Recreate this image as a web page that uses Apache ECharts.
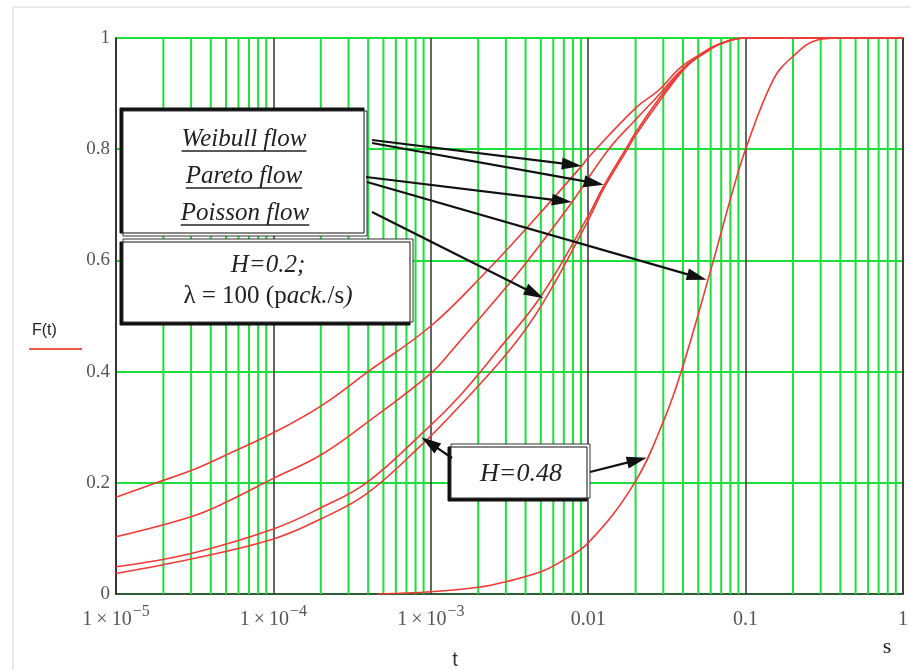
<!DOCTYPE html>
<html>
<head>
<meta charset="utf-8">
<script src="https://cdn.jsdelivr.net/npm/echarts@6/dist/echarts.min.js"></script>
<style>
  html, body { margin: 0; padding: 0; background: #fff; }
  #main { width: 911px; height: 670px; }
</style>
</head>
<body>
<div id="main"></div>
<script>
// [t (s), F(t)]
var curveTop = [[1e-5,0.174],[1.8e-5,0.2],[3e-5,0.222],[5e-5,0.25],[1e-4,0.29],[2e-4,0.338],[4e-4,0.4],[1e-3,0.482],
  [2.2e-3,0.577],[4.7e-3,0.678],[9.1e-3,0.77],[1e-2,0.785],[2e-2,0.874],[2.8e-2,0.906],[3.9e-2,0.948],[5.5e-2,0.975],[7e-2,0.99],[0.1,1],[1,1]];
var curveSecond = [[1e-5,0.103],[3e-5,0.139],[5e-5,0.165],[1e-4,0.208],[2e-4,0.25],[4e-4,0.31],[1e-3,0.397],[1.37e-3,0.439],
  [3.3e-3,0.565],[5e-3,0.63],[7.9e-3,0.705],[1.35e-2,0.8],[2e-2,0.853],[2.8e-2,0.897],[4e-2,0.945],[5.5e-2,0.973],[7e-2,0.99],[0.1,1],[1,1]];
var curvePairUpper = [[1e-5,0.049],[3e-5,0.073],[1e-4,0.117],[2e-4,0.155],[3.9e-4,0.2],[8.5e-4,0.285],[1.5e-3,0.354],[2.7e-3,0.44],
  [5e-3,0.535],[1e-2,0.68],[1.26e-2,0.735],[1.73e-2,0.8],[2e-2,0.83],[2.8e-2,0.89],[3.75e-2,0.935],[4.5e-2,0.958],[6e-2,0.982],[8e-2,0.996],[0.1,1],[1,1]];
var curvePairLower = [[1e-5,0.037],[3e-5,0.063],[1e-4,0.099],[2e-4,0.135],[3.9e-4,0.18],[8.5e-4,0.265],[1.5e-3,0.336],[3.2e-3,0.44],
  [5.2e-3,0.525],[1e-2,0.672],[1.26e-2,0.73],[1.73e-2,0.795],[2e-2,0.825],[2.8e-2,0.884],[3.75e-2,0.932],[4.5e-2,0.956],[6e-2,0.982],[8e-2,0.996],[0.1,1],[1,1]];
var curveH048 = [[4.6e-4,0],[1e-3,0.004],[2e-3,0.012],[3e-3,0.022],[5e-3,0.04],[6.5e-3,0.056],[1e-2,0.092],[1.97e-2,0.2],[3e-2,0.31],
  [3.9e-2,0.4],[6.25e-2,0.6],[8e-2,0.71],[0.1,0.8],[0.15,0.925],[0.195,0.964],[0.29,0.997],[0.4,1],[1,1]];

// green minor grid: 2..9 of every decade
var decades = [1e-5, 1e-4, 1e-3, 1e-2, 1e-1];
var minorSteps = [2, 3, 4, 5, 6, 7, 8, 9];
var minorLines = [];
decades.forEach(function (d) {
  minorSteps.forEach(function (m) { minorLines.push([d * m, 0]); });
});

var redLine = { color: '#f03a35', width: 1.6 };
var serif = '"Liberation Serif", "DejaVu Serif", serif';
var green = '#1de03a';

var chart = echarts.init(document.getElementById('main'));

function curveSeries(data) {
  return {
    type: 'line', data: data, showSymbol: false, smooth: 0.4,
    lineStyle: redLine, itemStyle: { color: redLine.color }, z: 3, silent: true
  };
}

var option = {
  animation: false,
  backgroundColor: '#fff',
  grid: {
    left: 116, right: 6, top: 38, bottom: 76,
    show: true, borderColor: '#333', borderWidth: 1.5, backgroundColor: '#fff'
  },
  xAxis: {
    type: 'log', logBase: 10, min: 1e-5, max: 1,
    axisLine: { lineStyle: { color: '#333', width: 1.5 } },
    axisTick: { show: false },
    splitLine: { show: true, lineStyle: { color: '#333', width: 1.5 } },
    axisLabel: {
      margin: 10, color: '#555', fontFamily: serif, fontSize: 19,
      showMinLabel: true, showMaxLabel: true,
      formatter: function (v) {
        var p = Math.round(Math.log10(v));
        if (p <= -3) return '{b|1\u2009×\u200910}{s|\u2212' + (-p) + '}';
        return '{b|' + Math.pow(10, p).toFixed(Math.max(0, -p)) + '}';
      },
      rich: {
        b: { fontFamily: serif, fontSize: 20, color: '#555', verticalAlign: 'bottom', lineHeight: 26 },
        s: { fontFamily: serif, fontSize: 16, color: '#555', verticalAlign: 'top', lineHeight: 26, padding: [0, 0, 12, 1] }
      }
    }
  },
  yAxis: {
    type: 'value', min: 0, max: 1, interval: 0.2,
    axisLine: { show: true, lineStyle: { color: '#333', width: 1.5 } },
    axisTick: { show: false },
    splitLine: { show: true, lineStyle: { color: green, width: 2 } },
    axisLabel: { margin: 6, color: '#555', fontFamily: serif, fontSize: 19 }
  },
  series: [
    {
      type: 'custom', data: minorLines, silent: true, z: 1,
      encode: { x: 0, y: 1 },
      renderItem: function (params, api) {
        var v = api.value(0);
        var p0 = api.coord([v, 0]);
        var p1 = api.coord([v, 1]);
        return { type: 'line', shape: { x1: p0[0], y1: p0[1], x2: p1[0], y2: p1[1] },
          style: { stroke: green, lineWidth: 2 } };
      }
    },
    curveSeries(curveTop),
    curveSeries(curveSecond),
    curveSeries(curvePairUpper),
    curveSeries(curvePairLower),
    curveSeries(curveH048)
  ]
};
chart.setOption(option);

// annotation arrows: start on the box edge (px), tip on the curve (data)
var arrows = [
  { from: [372, 140], to: [9.1e-3, 0.77] },
  { from: [372, 143], to: [1.256e-2, 0.736] },
  { from: [366, 177], to: [7.87e-3, 0.705] },
  { from: [367, 182], to: [5.65e-2, 0.565] },
  { from: [372, 212], to: [5.2e-3, 0.532] },
  { from: [452, 458], to: [8.7e-4, 0.282] },
  { from: [590, 472], to: [2.35e-2, 0.245] }
];

var ctx = document.createElement('canvas').getContext('2d');
function textWidth(str, font) { ctx.font = font; return ctx.measureText(str).width; }

var graphics = [];
// faint outer frame of the original screenshot
graphics.push({ type: 'rect', shape: { x: 13, y: 7, width: 920, height: 700 }, style: { fill: 'none', stroke: '#e2e2e2', lineWidth: 1.5 }, silent: true });

arrows.forEach(function (a) {
  var tip = chart.convertToPixel({ gridIndex: 0 }, a.to);
  var dx = tip[0] - a.from[0], dy = tip[1] - a.from[1];
  var len = Math.sqrt(dx * dx + dy * dy);
  var ux = dx / len, uy = dy / len;
  var L = 20, W = 6;
  var bx = tip[0] - ux * L, by = tip[1] - uy * L;
  graphics.push({ type: 'line', z: 50, silent: true,
    shape: { x1: a.from[0], y1: a.from[1], x2: bx + ux * 4, y2: by + uy * 4 },
    style: { stroke: '#111', lineWidth: 2.2 } });
  graphics.push({ type: 'polygon', z: 50, silent: true,
    shape: { points: [tip, [bx - uy * W, by + ux * W], [bx + uy * W, by - ux * W]] },
    style: { fill: '#111' } });
});

function box(x, y, w, h, offY) {
  graphics.push({ type: 'rect', z: 40, silent: true, shape: { x: x, y: y, width: w, height: h },
    style: { fill: '#fff', stroke: '#333', lineWidth: 1, shadowColor: '#111', shadowBlur: 0, shadowOffsetX: -3, shadowOffsetY: offY } });
}
box(123, 111, 244, 125, -3);
box(123, 239, 290, 83, 3);
box(451, 444, 139, 54, 3);

var italic = 'italic 25px ' + serif;
function underlined(str, cx, cy) {
  var w = textWidth(str, italic);
  graphics.push({ type: 'text', z: 45, silent: true,
    style: { text: str, x: cx, y: cy, align: 'center', verticalAlign: 'middle', fill: '#222', font: italic } });
  graphics.push({ type: 'line', z: 45, silent: true,
    shape: { x1: cx - w / 2, y1: cy + 12, x2: cx + w / 2, y2: cy + 12 }, style: { stroke: '#222', lineWidth: 1.3 } });
}
underlined('Weibull flow', 244, 139);
underlined('Pareto flow', 244, 176);
underlined('Poisson flow', 245, 213);

graphics.push({ type: 'text', z: 45, silent: true,
  style: { text: 'H=0.2;', x: 268, y: 265, align: 'center', verticalAlign: 'middle', fill: '#222', font: italic } });
graphics.push({ type: 'text', z: 45, silent: true,
  style: { text: '{n|λ = 100 (p}{i|ack.}{n|/s}{i|)}', x: 268, y: 296, align: 'center', verticalAlign: 'middle',
    rich: {
      n: { fontFamily: serif, fontSize: 25, fill: '#222' },
      i: { fontFamily: serif, fontSize: 25, fontStyle: 'italic', fill: '#222' }
    } } });
graphics.push({ type: 'text', z: 45, silent: true,
  style: { text: 'H=0.48', x: 521, y: 474, align: 'center', verticalAlign: 'middle', fill: '#222', font: 'italic 26px ' + serif } });

// axis titles
graphics.push({ type: 'text', silent: true,
  style: { text: 'F(t)', x: 32, y: 331, verticalAlign: 'middle', fill: '#222', font: '16px "Liberation Sans", Arial, sans-serif' } });
graphics.push({ type: 'line', silent: true, shape: { x1: 29, y1: 349, x2: 82, y2: 349 }, style: { stroke: '#ee5a45', lineWidth: 2 } });
graphics.push({ type: 'text', silent: true,
  style: { text: 't', x: 455, y: 660, align: 'center', verticalAlign: 'middle', fill: '#333', font: '20px "Liberation Sans", Arial, sans-serif' } });
graphics.push({ type: 'text', silent: true,
  style: { text: 's', x: 887, y: 647, align: 'center', verticalAlign: 'middle', fill: '#222', font: '22px ' + serif } });

chart.setOption({ graphic: graphics });
</script>
</body>
</html>
